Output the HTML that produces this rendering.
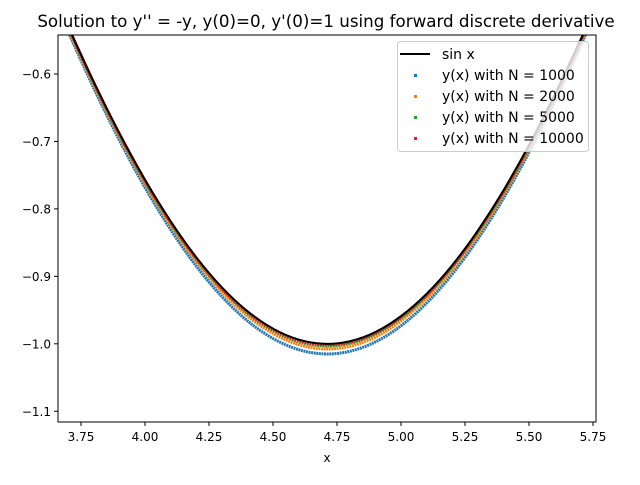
<!DOCTYPE html>
<html><head><meta charset="utf-8"><style>
body{margin:0;background:#fff;font-family:"Liberation Sans","DejaVu Sans",sans-serif}
svg text{font-family:"DejaVu Sans","Liberation Sans",sans-serif}
</style></head><body>
<svg id="c" width="640" height="480" xmlns="http://www.w3.org/2000/svg">
<rect width="640" height="480" fill="#fff"/>
<defs><clipPath id="clip"><rect x="58" y="35" width="538" height="387"/></clipPath></defs>
<text x="326" y="27" text-anchor="middle" font-size="16.7">Solution to y'' = -y, y(0)=0, y'(0)=1 using forward discrete derivative</text>
<g id="series" clip-path="url(#clip)"></g>
<rect x="58" y="35" width="538" height="387" fill="none" stroke="#000" stroke-width="1"/>
<g id="axes"></g>
<text x="327" y="462" text-anchor="middle" font-size="12">x</text>
<g>
<rect x="397.5" y="41.5" width="191" height="110" rx="3" fill="#fff" fill-opacity="0.8" stroke="#ccc"/>
<line x1="400" y1="54" x2="430" y2="54" stroke="#000" stroke-width="2"/>
<text x="442" y="59" font-size="14">sin x</text>
<rect x="414" y="74" width="3" height="3" fill="#1f77b4"/><text x="442" y="80" font-size="14">y(x) with N = 1000</text>
<rect x="414" y="95" width="3" height="3" fill="#ff7f0e"/><text x="442" y="101" font-size="14">y(x) with N = 2000</text>
<rect x="414" y="116" width="3" height="3" fill="#2ca02c"/><text x="442" y="122" font-size="14">y(x) with N = 5000</text>
<rect x="414" y="137" width="3" height="3" fill="#d62728"/><text x="442" y="143" font-size="14">y(x) with N = 10000</text>
</g>
</svg>
<script>
const xs=[3.66,3.7,3.8,3.9,4.0,4.1,4.2,4.3,4.4,4.5,4.6,4.7,4.8,4.9,5.0,5.1,5.2,5.3,5.4,5.5,5.6,5.7,5.76];
const sinY=[-0.4965,-0.5298,-0.6119,-0.6878,-0.7568,-0.8183,-0.8716,-0.9162,-0.9516,-0.9775,-0.9937,-1.0000,-0.9962,-0.9825,-0.9589,-0.9258,-0.8835,-0.8323,-0.7728,-0.7055,-0.6313,-0.5507,-0.5000];
const y1000=[-0.5040,-0.5377,-0.6211,-0.6981,-0.7682,-0.8306,-0.8847,-0.9299,-0.9659,-0.9922,-1.0086,-1.0150,-1.0111,-0.9972,-0.9733,-0.9397,-0.8968,-0.8448,-0.7844,-0.7161,-0.6408,-0.5590,-0.5075];
const y2000=[-0.5002,-0.5338,-0.6165,-0.6930,-0.7625,-0.8244,-0.8781,-0.9231,-0.9587,-0.9848,-1.0012,-1.0075,-1.0037,-0.9899,-0.9661,-0.9327,-0.8901,-0.8385,-0.7786,-0.7108,-0.6360,-0.5548,-0.5037];
const y5000=[-0.4980,-0.5314,-0.6137,-0.6899,-0.7591,-0.8208,-0.8742,-0.9189,-0.9545,-0.9804,-0.9967,-1.0030,-0.9992,-0.9854,-0.9618,-0.9286,-0.8862,-0.8348,-0.7751,-0.7076,-0.6332,-0.5524,-0.5015];
const y10000=[-0.4972,-0.5306,-0.6128,-0.6888,-0.7579,-0.8195,-0.8729,-0.9176,-0.9530,-0.9790,-0.9952,-1.0015,-0.9977,-0.9840,-0.9603,-0.9272,-0.8848,-0.8335,-0.7740,-0.7066,-0.6322,-0.5515,-0.5007];
const xTicks=[3.75,4.00,4.25,4.50,4.75,5.00,5.25,5.50,5.75];
const xTickLabels=["3.75","4.00","4.25","4.50","4.75","5.00","5.25","5.50","5.75"];
const yTicks=[-0.6,-0.7,-0.8,-0.9,-1.0,-1.1];
const yTickLabels=["\u22120.6","\u22120.7","\u22120.8","\u22120.9","\u22121.0","\u22121.1"];
const X=v=>81+(v-3.75)*256;
const Y=v=>74+(-0.6-v)*674.5;
const NS="http://www.w3.org/2000/svg";
const g=document.getElementById('series'),ax=document.getElementById('axes');
function mk(t,a,p){const e=document.createElementNS(NS,t);for(const k in a)e.setAttribute(k,a[k]);p.appendChild(e);return e;}
function smooth(ys){
  const P=xs.map((x,i)=>[X(x),Y(ys[i])]);
  let d='M'+P[0][0].toFixed(1)+','+P[0][1].toFixed(1);
  for(let i=0;i<P.length-1;i++){
    const p0=P[Math.max(0,i-1)],p1=P[i],p2=P[i+1],p3=P[Math.min(P.length-1,i+2)];
    const c1=[p1[0]+(p2[0]-p0[0])/6,p1[1]+(p2[1]-p0[1])/6];
    const c2=[p2[0]-(p3[0]-p1[0])/6,p2[1]-(p3[1]-p1[1])/6];
    d+=' C'+c1[0].toFixed(1)+','+c1[1].toFixed(1)+' '+c2[0].toFixed(1)+','+c2[1].toFixed(1)+' '+p2[0].toFixed(1)+','+p2[1].toFixed(1);
  }
  return d;
}
const sc=[[y1000,'#1f77b4','scatter-n1000'],[y2000,'#ff7f0e','scatter-n2000'],[y5000,'#2ca02c','scatter-n5000'],[y10000,'#d62728','scatter-n10000']];
sc.forEach(s=>{const p=mk('path',{d:smooth(s[0]),fill:'none',stroke:s[1],'stroke-width':3,'stroke-dasharray':'2 0.6'},g);

});
const l=mk('path',{d:smooth(sinY),fill:'none',stroke:'#000','stroke-width':2},g);


xTicks.forEach((t,i)=>{mk('line',{x1:X(t),x2:X(t),y1:422,y2:426,stroke:'#000'},ax);
const tx=mk('text',{x:X(t),y:441,'text-anchor':'middle','font-size':12},ax);tx.textContent=xTickLabels[i];

});
yTicks.forEach((t,i)=>{mk('line',{x1:54,x2:58,y1:Y(t),y2:Y(t),stroke:'#000'},ax);
const tx=mk('text',{x:51,y:Y(t)+4.5,'text-anchor':'end','font-size':12},ax);tx.textContent=yTickLabels[i];

});
</script>
</body></html>
